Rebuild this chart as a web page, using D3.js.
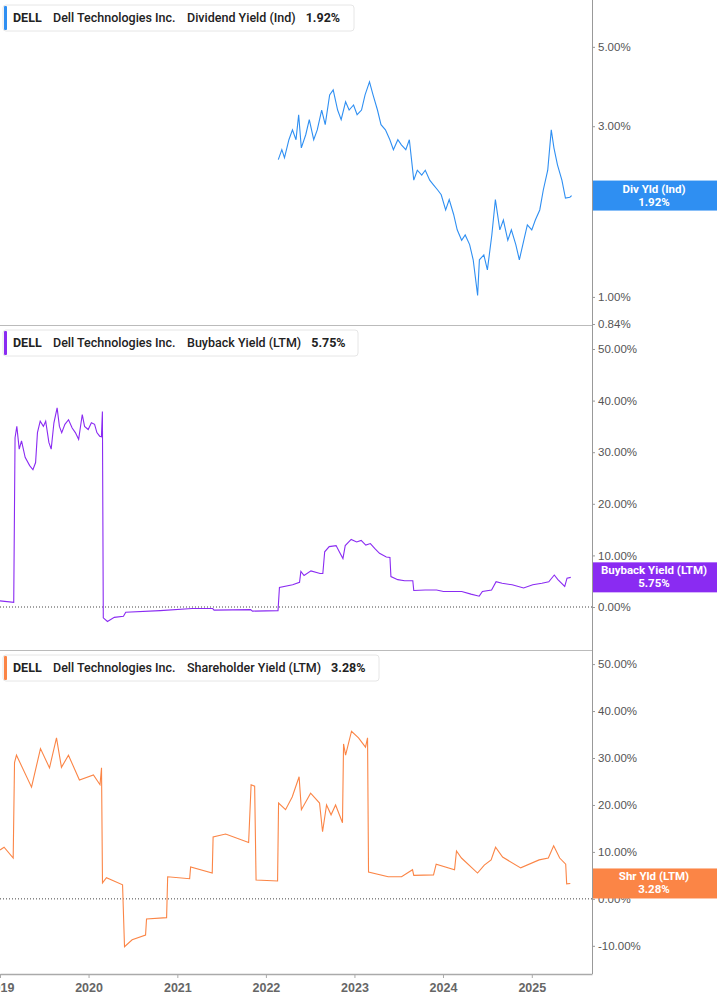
<!DOCTYPE html>
<html>
<head>
<meta charset="utf-8">
<script src="https://cdn.jsdelivr.net/npm/d3@7"></script>
<style>
  body { margin: 0; background: #fff; }
  svg { display: block; font-family: Roboto, "Noto Sans", sans-serif; }
</style>
</head>
<body>
<svg id="chart" width="717" height="1005"></svg>
<script>
// [decimal year, value %]
const divYield = [
  [2022.14, 2.42], [2022.18, 2.58], [2022.21, 2.45], [2022.26, 2.75], [2022.30, 2.93],
  [2022.34, 2.75], [2022.37, 3.23], [2022.40, 2.61], [2022.45, 2.84], [2022.49, 3.13],
  [2022.54, 2.75], [2022.58, 2.93], [2022.63, 3.33], [2022.67, 3.03], [2022.72, 3.67],
  [2022.76, 3.79], [2022.81, 3.33], [2022.85, 3.13], [2022.90, 3.51], [2022.94, 3.33],
  [2022.99, 3.44], [2023.03, 3.23], [2023.08, 3.33], [2023.12, 3.67], [2023.17, 3.99],
  [2023.21, 3.67], [2023.26, 3.33], [2023.30, 3.03], [2023.35, 2.93], [2023.40, 2.75],
  [2023.44, 2.58], [2023.49, 2.75], [2023.53, 2.66], [2023.58, 2.58], [2023.62, 2.75],
  [2023.67, 2.12], [2023.71, 2.26], [2023.76, 2.19], [2023.80, 2.26], [2023.85, 2.12],
  [2023.89, 2.06], [2023.94, 1.99], [2023.98, 1.93], [2024.03, 1.75], [2024.07, 1.87],
  [2024.12, 1.70], [2024.16, 1.54], [2024.21, 1.44], [2024.25, 1.49], [2024.30, 1.40],
  [2024.34, 1.27], [2024.39, 1.01], [2024.41, 1.27], [2024.46, 1.31], [2024.50, 1.19],
  [2024.55, 1.49], [2024.59, 1.87], [2024.64, 1.54], [2024.68, 1.64], [2024.73, 1.44],
  [2024.77, 1.54], [2024.82, 1.40], [2024.86, 1.27], [2024.91, 1.44], [2024.95, 1.59],
  [2025.00, 1.54], [2025.04, 1.64], [2025.09, 1.75], [2025.13, 1.99], [2025.18, 2.26],
  [2025.22, 2.93], [2025.25, 2.61], [2025.29, 2.34], [2025.34, 2.12], [2025.38, 1.89],
  [2025.43, 1.90], [2025.45, 1.92]
];

const buybackYield = [
  [2019.00, 1.2], [2019.155, 0.9], [2019.17, 32.8], [2019.19, 35.0], [2019.217, 30.6],
  [2019.243, 32.2], [2019.284, 29.0], [2019.335, 27.4], [2019.372, 26.6], [2019.402, 28.0],
  [2019.423, 33.8], [2019.454, 36.0], [2019.49, 35.0], [2019.516, 36.0], [2019.552, 31.9],
  [2019.578, 30.6], [2019.609, 35.7], [2019.645, 38.6], [2019.671, 35.0], [2019.697, 33.8],
  [2019.733, 35.4], [2019.774, 36.3], [2019.815, 34.7], [2019.851, 33.8], [2019.888, 32.5],
  [2019.929, 37.3], [2019.955, 35.0], [2019.996, 34.4], [2020.032, 35.7], [2020.068, 35.4],
  [2020.094, 33.8], [2020.125, 33.1], [2020.145, 33.0], [2020.156, 37.9], [2020.166, -2.1],
  [2020.213, -2.8], [2020.29, -2.0], [2020.393, -1.8], [2020.419, -1.0], [2020.806, -0.7],
  [2021.167, -0.3], [2021.399, -0.3], [2021.415, -0.6], [2021.828, -0.5], [2021.848, -0.8],
  [2022.137, -0.7], [2022.153, 3.8], [2022.302, 4.3], [2022.38, 4.8], [2022.395, 6.9],
  [2022.431, 6.1], [2022.509, 7.0], [2022.612, 6.5], [2022.643, 6.5], [2022.664, 10.7],
  [2022.715, 11.7], [2022.793, 11.9], [2022.829, 10.7], [2022.87, 9.4], [2022.896, 11.9],
  [2022.963, 13.1], [2023.025, 12.6], [2023.076, 12.9], [2023.128, 12.0], [2023.18, 12.3],
  [2023.231, 11.3], [2023.283, 10.4], [2023.36, 9.7], [2023.401, 9.6], [2023.412, 5.9],
  [2023.489, 5.3], [2023.567, 5.1], [2023.659, 5.1], [2023.67, 3.2], [2023.799, 3.3],
  [2023.928, 3.3], [2024.005, 3.0], [2024.16, 3.0], [2024.211, 3.0], [2024.315, 2.5],
  [2024.408, 2.1], [2024.444, 3.0], [2024.547, 3.3], [2024.598, 4.9], [2024.666, 4.6],
  [2024.779, 4.3], [2024.908, 3.7], [2025.011, 4.3], [2025.114, 4.6], [2025.192, 4.9],
  [2025.254, 6.2], [2025.295, 5.3], [2025.372, 4.0], [2025.398, 5.6], [2025.44, 5.75]
];

const shareholderYield = [
  [2019.00, 10.4], [2019.046, 11.0], [2019.149, 8.7], [2019.164, 29.0], [2019.186, 30.6],
  [2019.356, 23.8], [2019.457, 32.0], [2019.559, 27.9], [2019.638, 34.3], [2019.694, 28.0],
  [2019.773, 30.6], [2019.897, 25.3], [2020.055, 26.4], [2020.129, 24.3], [2020.146, 27.9],
  [2020.157, 3.4], [2020.202, 4.5], [2020.383, 3.0], [2020.405, -10.2], [2020.491, -8.7],
  [2020.642, -7.7], [2020.653, -4.3], [2020.879, -4.0], [2020.891, 4.7], [2021.139, 4.3],
  [2021.15, 6.8], [2021.394, 5.5], [2021.404, 13.2], [2021.545, 13.8], [2021.805, 12.0],
  [2021.833, 24.3], [2021.873, 24.0], [2021.889, 4.0], [2022.132, 3.8], [2022.143, 20.4],
  [2022.222, 19.0], [2022.297, 21.7], [2022.375, 26.0], [2022.401, 19.0], [2022.505, 22.5],
  [2022.606, 20.4], [2022.64, 14.3], [2022.685, 20.0], [2022.736, 17.9], [2022.787, 20.0],
  [2022.865, 16.2], [2022.877, 33.0], [2022.90, 30.6], [2022.967, 35.7], [2023.046, 34.3],
  [2023.125, 32.3], [2023.148, 34.3], [2023.159, 5.7], [2023.381, 4.7], [2023.532, 4.7],
  [2023.656, 6.2], [2023.67, 5.0], [2023.893, 5.1], [2023.923, 7.4], [2024.13, 6.2],
  [2024.152, 10.2], [2024.208, 8.7], [2024.389, 5.5], [2024.465, 7.2], [2024.542, 8.3],
  [2024.592, 11.0], [2024.671, 8.9], [2024.875, 6.6], [2025.083, 8.3], [2025.187, 8.7],
  [2025.247, 11.3], [2025.315, 8.7], [2025.383, 7.4], [2025.394, 3.2], [2025.435, 3.28]
];

const divTicks = [0.84, 1, 3, 5];
const pctTicks = [0, 10, 20, 30, 40, 50];
const shrTicks = [-10, 0, 10, 20, 30, 40, 50];

const toDate = (y) => {
  const yr = Math.floor(y);
  const start = new Date(yr, 0, 1), end = new Date(yr + 1, 0, 1);
  return new Date(+start + (y - yr) * (end - start));
};

const svg = d3.select("#chart");
const W = 717, plotRight = 592, axisY = 974;

const x = d3.scaleTime()
  .domain([toDate(2019.0), toDate(2025.68)])
  .range([0, plotRight]);

const panels = [
  {
    data: divYield, top: 0, bottom: 325, color: "#2f8ff2",
    y: d3.scaleLog().domain([0.84, 6.76]).range([324, 0]),
    ticks: divTicks, fmt: (d) => d.toFixed(2) + "%", zero: false,
    legend: "Dividend Yield (Ind)", last: "1.92%", badge: "Div Yld (Ind)", lw: 351
  },
  {
    data: buybackYield, top: 325, bottom: 650, color: "#8a2bf2",
    y: d3.scaleLinear().domain([-8.33, 54.65]).range([650, 325]),
    ticks: pctTicks, fmt: (d) => d.toFixed(2) + "%", zero: true,
    legend: "Buyback Yield (LTM)", last: "5.75%", badge: "Buyback Yield (LTM)", lw: 355
  },
  {
    data: shareholderYield, top: 650, bottom: axisY, color: "#fb8546",
    y: d3.scaleLinear().domain([-16, 53]).range([axisY, 650]),
    ticks: shrTicks, fmt: (d) => d.toFixed(2) + "%", zero: true,
    legend: "Shareholder Yield (LTM)", last: "3.28%", badge: "Shr Yld (LTM)", lw: 376
  }
];

panels.forEach((p, i) => {
  const g = svg.append("g");

  // separator
  if (i > 0) {
    g.append("line")
      .attr("x1", 0).attr("x2", plotRight)
      .attr("y1", p.top + 0.5).attr("y2", p.top + 0.5)
      .attr("stroke", "#bbb");
  }

  if (p.zero) {
    g.append("line")
      .attr("x1", 0).attr("x2", plotRight)
      .attr("y1", p.y(0)).attr("y2", p.y(0))
      .attr("stroke", "#444").attr("stroke-dasharray", "1,2");
  }

  g.append("path")
    .datum(p.data)
    .attr("fill", "none")
    .attr("stroke", p.color)
    .attr("stroke-width", 1.1)
    .attr("d", d3.line().x((d) => x(toDate(d[0]))).y((d) => p.y(d[1])));

  // right axis
  const ax = g.append("g")
    .attr("transform", `translate(${plotRight},0)`)
    .call(d3.axisRight(p.y).tickValues(p.ticks).tickFormat(p.fmt).tickSize(3).tickPadding(3));
  ax.select(".domain").remove();
  ax.selectAll("line").attr("stroke", "#999");
  ax.selectAll("text").attr("fill", "#555").attr("font-size", 11.5);

  // value badge
  const cy = p.y(p.data[p.data.length - 1][1]);
  g.append("rect")
    .attr("x", plotRight).attr("y", cy - 15)
    .attr("width", W - plotRight).attr("height", 30)
    .attr("fill", p.color);
  g.append("text")
    .attr("x", 654).attr("y", cy - 3)
    .attr("text-anchor", "middle").attr("fill", "#fff")
    .attr("font-size", 11.5).attr("font-weight", 700)
    .text(p.badge);
  g.append("text")
    .attr("x", 654).attr("y", cy + 10)
    .attr("text-anchor", "middle").attr("fill", "#fff")
    .attr("font-size", 11.5).attr("font-weight", 700)
    .text(p.last);

  // legend
  const lg = g.append("g").attr("transform", `translate(3,${p.top + 5})`);
  lg.append("rect")
    .attr("width", p.lw).attr("height", 26).attr("rx", 3)
    .attr("fill", "#fff").attr("stroke", "#e6e6e6");
  lg.append("rect")
    .attr("x", 1).attr("y", 1).attr("width", 3).attr("height", 24).attr("rx", 1)
    .attr("fill", p.color);
  const lt = lg.append("text").attr("y", 17).attr("font-size", 12.5).attr("fill", "#222");
  lt.append("tspan").attr("x", 10).attr("font-weight", 700).text("DELL");
  lt.append("tspan").attr("x", 50).attr("font-weight", 500).text("Dell Technologies Inc.");
  lt.append("tspan").attr("x", 184).attr("font-weight", 500).text(p.legend);
  lt.append("tspan").attr("dx", 10).attr("font-weight", 700).text(p.last);
});

// vertical axis line
svg.append("line")
  .attr("x1", plotRight + 0.5).attr("x2", plotRight + 0.5)
  .attr("y1", 0).attr("y2", axisY)
  .attr("stroke", "#999");

// bottom axis
const xa = svg.append("g")
  .attr("transform", `translate(0,${axisY})`)
  .call(d3.axisBottom(x).ticks(d3.timeYear.every(1)).tickFormat(d3.timeFormat("%Y")).tickSize(4).tickSizeOuter(0));
xa.select(".domain").attr("stroke", "#aaa").attr("stroke-width", 1.5);
xa.selectAll("line").attr("stroke", "#aaa");
xa.selectAll("text").attr("fill", "#666").attr("font-size", 12.5).attr("font-weight", 700).attr("dy", "0.9em");
</script>
</body>
</html>
